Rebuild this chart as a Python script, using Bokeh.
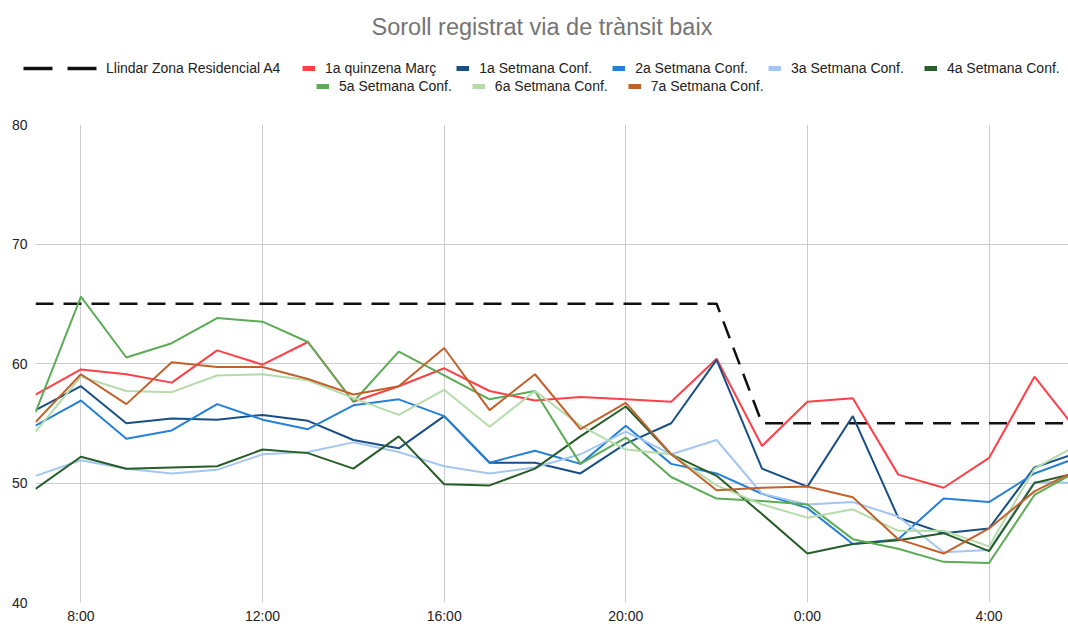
from bokeh.plotting import figure
from bokeh.layouts import column
from bokeh.models import Range1d, FixedTicker, Legend, LegendItem, Title
from bokeh.embed import file_html
from bokeh.resources import INLINE

# ---------------- data ----------------
hours = [7, 8, 9, 10, 11, 12, 13, 14, 15, 16, 17, 18, 19, 20, 21, 22, 23, 24, 25, 26, 27, 28, 29, 30]
tick_hours = [8, 12, 16, 20, 24, 28]
tick_labels = ["8:00", "12:00", "16:00", "20:00", "0:00", "4:00"]
y_ticks = [40, 50, 60, 70, 80]

threshold = [65, 65, 65, 65, 65, 65, 65, 65, 65, 65, 65, 65, 65, 65, 65, 65,
             55, 55, 55, 55, 55, 55, 55, 55]
quinzena_marc = [57.4, 59.5, 59.1, 58.4, 61.1, 59.9, 61.8, 56.8, 58.1, 59.6, 57.7, 56.9,
                 57.2, 57.0, 56.8, 60.4, 53.1, 56.8, 57.1, 50.7, 49.6, 52.1, 58.9, 54.1]
setmana1 = [56.1, 58.1, 55.0, 55.4, 55.3, 55.7, 55.2, 53.6, 52.9, 55.6, 51.7, 51.7,
            50.8, 53.3, 55.0, 60.3, 51.2, 49.7, 55.6, 47.1, 45.8, 46.2, 51.3, 52.6]
setmana2 = [54.8, 56.9, 53.7, 54.4, 56.6, 55.3, 54.5, 56.5, 57.0, 55.6, 51.7, 52.7,
            51.6, 54.8, 51.6, 50.8, 49.1, 47.9, 44.9, 45.3, 48.7, 48.4, 50.8, 52.2]
setmana3 = [50.6, 51.9, 51.2, 50.8, 51.1, 52.4, 52.6, 53.4, 52.6, 51.4, 50.8, 51.3,
            52.4, 54.3, 52.4, 53.6, 49.1, 48.2, 48.4, 47.2, 44.2, 44.4, 50.1, 50.0]
setmana4 = [49.5, 52.2, 51.2, 51.3, 51.4, 52.8, 52.5, 51.2, 53.9, 49.9, 49.8, 51.2,
            53.9, 56.4, 52.4, 50.6, 47.4, 44.1, 44.9, 45.2, 45.8, 44.3, 50.0, 50.9]
setmana5 = [55.9, 65.6, 60.5, 61.7, 63.8, 63.5, 61.8, 56.8, 61.0, 59.0, 57.0, 57.7,
            51.6, 53.8, 50.5, 48.7, 48.5, 48.2, 45.3, 44.5, 43.4, 43.3, 49.0, 51.1]
setmana6 = [54.3, 58.9, 57.7, 57.6, 59.0, 59.1, 58.6, 57.1, 55.7, 57.8, 54.7, 57.7,
            54.8, 52.8, 52.4, 49.8, 48.2, 47.1, 47.8, 46.0, 46.0, 44.7, 51.2, 53.3]
setmana7 = [55.1, 59.1, 56.6, 60.1, 59.7, 59.7, 58.7, 57.4, 58.1, 61.3, 56.1, 59.1,
            54.5, 56.7, 52.4, 49.4, 49.6, 49.7, 48.8, 45.3, 44.1, 46.2, 49.3, 51.2]

threshold_name = "Llindar Zona Residencial A4"
series_names = ["1a quinzena Març", "1a Setmana Conf.", "2a Setmana Conf.", "3a Setmana Conf.",
                "4a Setmana Conf.", "5a Setmana Conf.", "6a Setmana Conf.", "7a Setmana Conf."]
series_values = [quinzena_marc, setmana1, setmana2, setmana3, setmana4, setmana5, setmana6, setmana7]
series_colors = ["#ff4048", "#174f86", "#2580d8", "#a3c7f0", "#275d28", "#5cab56", "#b5dba9", "#c2612b"]

title_text = "Soroll registrat via de trànsit baix"

FONT = "Liberation Sans"

# ---------------- header figure: title + legend ----------------
head = figure(width=1068, height=114, x_range=Range1d(7, 29.75), y_range=Range1d(40, 80),
              output_backend="svg", toolbar_location=None,
              x_axis_location=None, y_axis_location=None,
              min_border_left=0, min_border_right=0, min_border_top=50, min_border_bottom=0)
head.outline_line_color = None
head.grid.grid_line_color = None
head.background_fill_color = "white"
head.border_fill_color = "white"

# horizontal origin of the header frame (0 when frames are not aligned)
x0 = 35
if hasattr(head, "frame_align"):
    head.frame_align = False
    x0 = 0

t = Title(text=title_text, align="left", offset=371 - x0, standoff=21, text_font=FONT,
          text_font_size="23.5px", text_color="#757575", text_font_style="normal")
head.add_layout(t, "above")

# legend-only renderers (a single point draws no line)
dash_leg = head.line(hours[:1], threshold[:1], line_color="#111111", line_width=3.5, line_dash="29 15")
swatches = [head.line(hours[:1], vals[:1], line_color=col, line_width=5)
            for vals, col in zip(series_values, series_colors)]

common = dict(orientation="horizontal", padding=0, margin=0, border_line_color=None,
              background_fill_alpha=0, label_text_font=FONT, label_text_font_size="14px",
              label_text_color="#222222", label_height=16, glyph_height=16)

leg_dash = Legend(items=[LegendItem(label=threshold_name, renderers=[dash_leg])],
                  location=(max(23 - x0, 0), 38), glyph_width=75, label_standoff=8, **common)
leg_row1 = Legend(items=[LegendItem(label=n, renderers=[r]) for n, r in zip(series_names[:5], swatches[:5])],
                  location=(302 - x0, 38), glyph_width=13, label_standoff=10, spacing=20, **common)
leg_row2 = Legend(items=[LegendItem(label=n, renderers=[r]) for n, r in zip(series_names[5:], swatches[5:])],
                  location=(316 - x0, 20), glyph_width=13, label_standoff=10, spacing=20, **common)
for lg in (leg_dash, leg_row1, leg_row2):
    head.add_layout(lg)

# ---------------- chart figure ----------------
p = figure(width=1068, height=512, x_range=Range1d(7, 29.75), y_range=Range1d(40, 80),
           output_backend="svg", toolbar_location=None,
           min_border_left=35, min_border_right=0, min_border_top=10, min_border_bottom=21)
p.outline_line_color = None
p.background_fill_color = "white"
p.border_fill_color = "white"
if hasattr(p, "frame_align"):
    p.frame_align = False

for ax in (p.xaxis, p.yaxis):
    ax.axis_line_color = None
    ax.major_tick_line_color = None
    ax.minor_tick_line_color = None
    ax.major_tick_out = 0
    ax.major_tick_in = 0
    ax.minor_tick_out = 0
    ax.major_label_text_font = FONT
    ax.major_label_text_font_size = "14px"
    ax.major_label_text_color = "#222222"

p.xaxis.ticker = FixedTicker(ticks=tick_hours)
p.xaxis.major_label_overrides = dict(zip(tick_hours, tick_labels))
p.xaxis.major_label_standoff = 5
p.yaxis.ticker = FixedTicker(ticks=y_ticks)
p.yaxis.major_label_standoff = 8

p.xgrid.ticker = FixedTicker(ticks=tick_hours)
p.ygrid.ticker = FixedTicker(ticks=y_ticks)
p.xgrid.grid_line_color = "#cccccc"
p.ygrid.grid_line_color = "#cccccc"

p.line(hours, threshold, line_color="#111111", line_width=2.5, line_dash="18 10")
for vals, col in zip(series_values, series_colors):
    p.line(hours, vals, line_color=col, line_width=2)

layout = column(head, p, spacing=0)
open("out.html", "w").write(file_html(layout, INLINE))
